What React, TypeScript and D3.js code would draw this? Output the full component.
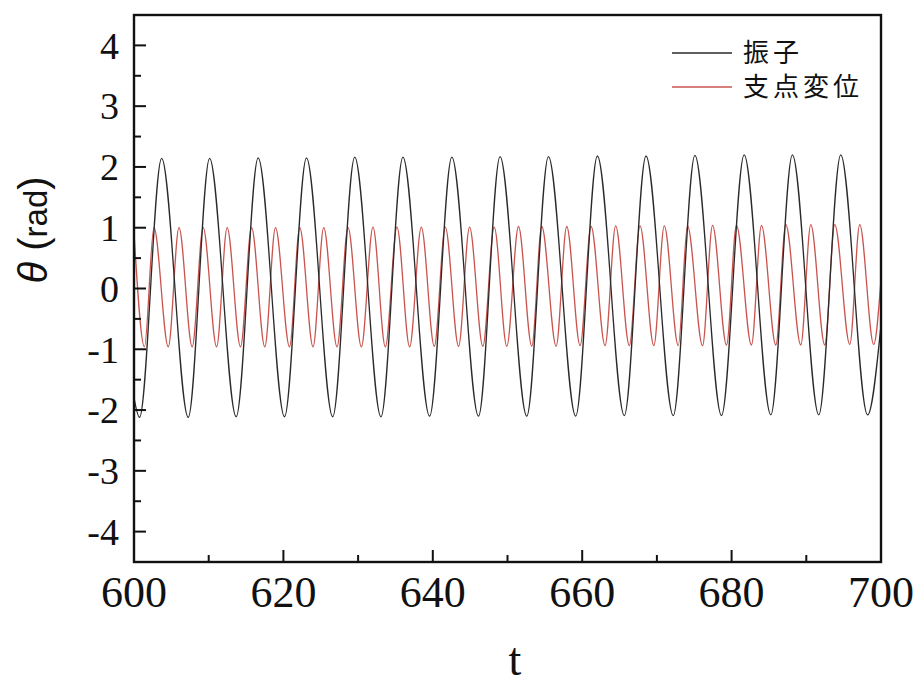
import React from "react";
import * as d3 from "d3";

// Pendulum angle: alternating extrema (time, angle) with the end points of the window
const pendulumT = [
  600.0, 600.74, 603.7, 607.26, 610.12, 613.68, 616.62, 620.15, 623.09, 626.6,
  629.55, 633.06, 636.0, 639.57, 642.55, 646.12, 649.0, 652.58, 655.48, 659.13,
  662.03, 665.64, 668.54, 672.19, 675.09, 678.65, 681.68, 685.25, 688.14, 691.67,
  694.61, 698.2, 700.0,
];
const pendulumTheta = [
  -1.8, -2.12, 2.14, -2.12, 2.14, -2.11, 2.15, -2.11, 2.15, -2.11,
  2.16, -2.11, 2.16, -2.1, 2.16, -2.1, 2.17, -2.1, 2.17, -2.1,
  2.18, -2.09, 2.18, -2.09, 2.19, -2.09, 2.2, -2.08, 2.2, -2.08,
  2.2, -2.08, -0.6,
];

// Pivot displacement: alternating extrema (time, value) with the end points
const pivotT = [
  600.0, 601.4, 602.67, 604.59, 606.02, 607.79, 609.26, 611.06, 612.47, 614.26,
  615.74, 617.51, 618.94, 620.82, 622.19, 623.97, 625.4, 627.18, 628.65, 630.44,
  631.99, 633.65, 635.2, 636.9, 638.46, 640.2, 641.67, 643.45, 644.92, 646.7,
  648.22, 649.91, 651.47, 653.25, 654.59, 656.51, 657.93, 659.72, 661.19, 663.06,
  664.48, 666.31, 667.74, 669.59, 670.99, 672.86, 674.1, 676.11, 677.45, 679.32,
  680.65, 682.66, 684.0, 685.92, 687.26, 689.26, 690.6, 692.47, 693.81, 695.82,
  697.15, 699.02, 700.0,
];
const pivotTheta = [
  0.92, -0.96, 1.0, -0.96, 1.0, -0.96, 1.0, -0.96, 1.0, -0.96,
  1.0, -0.96, 1.0, -0.96, 1.0, -0.96, 1.0, -0.96, 1.0, -0.96,
  1.01, -0.96, 1.01, -0.96, 1.01, -0.95, 1.01, -0.95, 1.01, -0.95,
  1.01, -0.95, 1.02, -0.95, 1.02, -0.95, 1.02, -0.94, 1.02, -0.94,
  1.03, -0.94, 1.03, -0.94, 1.03, -0.94, 1.03, -0.94, 1.04, -0.93,
  1.04, -0.93, 1.04, -0.93, 1.05, -0.93, 1.05, -0.93, 1.05, -0.92,
  1.05, -0.92, 0.15,
];

const xMajorTicks = [600, 620, 640, 660, 680, 700];
const xMinorTicks = [610, 630, 650, 670, 690];
const yMajorTicks = [-4, -3, -2, -1, 0, 1, 2, 3, 4];
const yMinorTicks = [-3.5, -2.5, -1.5, -0.5, 0.5, 1.5, 2.5, 3.5];

const seriesNames = ["振子", "支点変位"];
const seriesColors = ["#2a2a2a", "#c9544f"];

const W = 920;
const H = 686;
const plotLeft = 134;
const plotRight = 881;
const plotTop = 15;
const plotBottom = 562;

const fontCss = `
  svg text.serif-label { font-family: "Liberation Serif", "Times New Roman", serif !important; }
  svg text.sans-label { font-family: "Liberation Sans", Arial, sans-serif !important; }
  svg text.cjk-label { font-family: "Noto Sans CJK JP", sans-serif !important; }
`;

export default function App() {
  const x = d3.scaleLinear().domain([600, 700]).range([plotLeft, plotRight]);
  const y = d3.scaleLinear().domain([-4.5, 4.5]).range([plotBottom, plotTop]);

  const line = d3
    .line<[number, number]>()
    .x((d) => x(d[0]))
    .y((d) => y(d[1]))
    .curve(d3.curveMonotoneX);

  const pendulum = pendulumT.map((t, i) => [t, pendulumTheta[i]] as [number, number]);
  const pivot = pivotT.map((t, i) => [t, pivotTheta[i]] as [number, number]);

  return (
    <svg
      width={W}
      height={H}
      style={{ position: "absolute", left: 0, top: 0, background: "#fff" }}
    >
      <style>{fontCss}</style>
      <defs>
        <clipPath id="plotArea">
          <rect x={plotLeft} y={plotTop} width={plotRight - plotLeft} height={plotBottom - plotTop} />
        </clipPath>
      </defs>

      <g clipPath="url(#plotArea)" fill="none">
        <path d={line(pivot) || ""} stroke={seriesColors[1]} strokeWidth={1.3} />
        <path d={line(pendulum) || ""} stroke={seriesColors[0]} strokeWidth={1.3} />
      </g>

      {/* frame */}
      <rect
        x={plotLeft}
        y={plotTop}
        width={plotRight - plotLeft}
        height={plotBottom - plotTop}
        fill="none"
        stroke="#111"
        strokeWidth={2.4}
      />

      {/* axis ticks, pointing inward */}
      <g stroke="#111" strokeWidth={2}>
        {xMajorTicks.map((t) => (
          <line key={"xM" + t} x1={x(t)} x2={x(t)} y1={plotBottom} y2={plotBottom - 12} />
        ))}
        {xMinorTicks.map((t) => (
          <line key={"xm" + t} x1={x(t)} x2={x(t)} y1={plotBottom} y2={plotBottom - 7} />
        ))}
        {yMajorTicks.map((v) => (
          <line key={"yM" + v} x1={plotLeft} x2={plotLeft + 12} y1={y(v)} y2={y(v)} />
        ))}
        {yMinorTicks.map((v) => (
          <line key={"ym" + v} x1={plotLeft} x2={plotLeft + 7} y1={y(v)} y2={y(v)} />
        ))}
      </g>

      {xMajorTicks.map((t) => (
        <text
          key={"xl" + t}
          className="serif-label"
          x={x(t)}
          y={607}
          fontSize={44}
          textAnchor="middle"
          fill="#111"
        >
          {t}
        </text>
      ))}
      {yMajorTicks.map((v) => (
        <text
          key={"yl" + v}
          className="serif-label"
          x={119}
          y={y(v)}
          dy="0.35em"
          fontSize={38}
          textAnchor="end"
          fill="#111"
        >
          {v < 0 ? "-" + Math.abs(v) : String(v)}
        </text>
      ))}
      <text
        className="serif-label"
        x={515}
        y={675}
        fontSize={46}
        textAnchor="middle"
        fill="#111"
      >
        t
      </text>

      <text
        className="sans-label"
        transform="translate(47, 230) rotate(-90)"
        textAnchor="middle"
        fill="#111"
      >
        <tspan fontSize={40} fontStyle="italic">θ</tspan>
        <tspan fontSize={40}> (</tspan>
        <tspan fontSize={33}>rad</tspan>
        <tspan fontSize={40}>)</tspan>
      </text>

      {/* legend */}
      {seriesNames.map((name, i) => (
        <g key={name} transform={`translate(0, ${53 + i * 34})`}>
          <line x1={672} x2={732} y1={0} y2={0} stroke={seriesColors[i]} strokeWidth={1.3} />
          <text
            className="cjk-label"
            x={743}
            y={0}
            dy="0.36em"
            fontSize={26}
            letterSpacing={4}
            fill="#111"
          >
            {name}
          </text>
        </g>
      ))}
    </svg>
  );
}
